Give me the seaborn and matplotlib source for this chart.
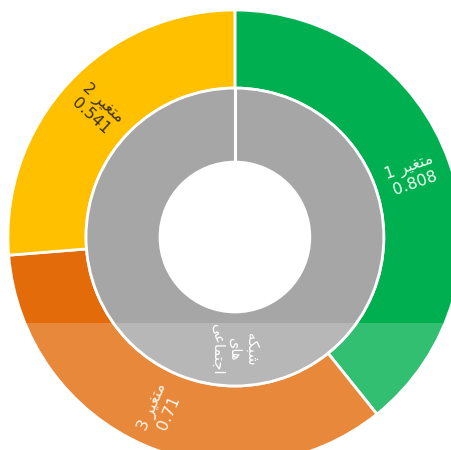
import matplotlib
matplotlib.use('Agg')
import matplotlib.pyplot as plt
from matplotlib.patches import Rectangle
import numpy as np
import seaborn as sns

# outer ring, clockwise from 12 o'clock
names = ['متغیر 1', 'متغیر 3', 'متغیر 2']
values = [0.808, 0.71, 0.541]
colors = ['#00B050', '#E36B0A', '#FFC000']
text_colors = ['#f2fff2', '#fff4ea', '#3a3222']

# inner ring
inner_name = 'شبکه های اجتماعی'
inner_value = [1.0]
inner_color = ['#A6A6A6']

# crude arabic shaping (matplotlib has no complex text layout)
FORMS = {
    'ا': ('\uFE8D', '\uFE8E', None, None),
    'ب': ('\uFE8F', '\uFE90', '\uFE91', '\uFE92'),
    'ت': ('\uFE95', '\uFE96', '\uFE97', '\uFE98'),
    'ج': ('\uFE9D', '\uFE9E', '\uFE9F', '\uFEA0'),
    'ر': ('\uFEAD', '\uFEAE', None, None),
    'ش': ('\uFEB5', '\uFEB6', '\uFEB7', '\uFEB8'),
    'ع': ('\uFEC9', '\uFECA', '\uFECB', '\uFECC'),
    'غ': ('\uFECD', '\uFECE', '\uFECF', '\uFED0'),
    'م': ('\uFEE1', '\uFEE2', '\uFEE3', '\uFEE4'),
    'ه': ('\uFEE9', '\uFEEA', '\uFEEB', '\uFEEC'),
    'ک': ('\uFB8E', '\uFB8F', '\uFB90', '\uFB91'),
    'ی': ('\uFBFC', '\uFBFD', '\uFBFE', '\uFBFF'),
}


def shape_word(w):
    out = []
    for i, ch in enumerate(w):
        if ch not in FORMS:
            out.append(ch)
            continue
        prev = w[i - 1] if i > 0 else None
        nxt = w[i + 1] if i < len(w) - 1 else None
        join_prev = prev in FORMS and FORMS[prev][2] is not None
        join_next = nxt in FORMS and FORMS[ch][2] is not None
        iso, fin, ini, med = FORMS[ch]
        if join_prev and join_next:
            out.append(med)
        elif join_prev:
            out.append(fin)
        elif join_next:
            out.append(ini)
        else:
            out.append(iso)
    return ''.join(out)[::-1]


def rtl(line):
    words = line.split(' ')
    has_ar = any(c in FORMS for c in line)
    words = [shape_word(w) if any(c in FORMS for c in w) else w for w in words]
    if has_ar:
        words = words[::-1]
    return ' '.join(words)


sns.set_theme(style='white')
plt.rcParams['font.family'] = ['DejaVu Sans']

fig = plt.figure(figsize=(4.51, 4.5), dpi=100)
ax = fig.add_axes([0, 0, 1, 1])

outer_w = 0.344
inner_r = 0.656
inner_w = 0.326

wedges, _ = ax.pie(values, colors=colors, startangle=90, counterclock=False,
                   radius=1.0, wedgeprops=dict(width=outer_w, edgecolor='white', linewidth=2))
iwedges, _ = ax.pie(inner_value, colors=inner_color, startangle=90, counterclock=False,
                    radius=inner_r, wedgeprops=dict(width=inner_w, edgecolor='white', linewidth=2))
# the single inner wedge still shows its seam at 12 o'clock
ax.plot([0, 0], [inner_r - inner_w, inner_r], color='white', lw=2.2, zorder=3)


def put_label(w, r, txt, color, size):
    mid = (w.theta1 + w.theta2) / 2.0
    mid = (mid + 180) % 360 - 180
    rot = mid if -90 <= mid <= 90 else mid - 180 if mid > 90 else mid + 180
    x = r * np.cos(np.radians(mid))
    y = r * np.sin(np.radians(mid))
    ax.text(x, y, txt, rotation=rot, rotation_mode='anchor', ha='center', va='center',
            multialignment='center', color=color, fontsize=size, linespacing=1.15)


ring_mid = 1.0 - outer_w / 2
for w, n, v, tc in zip(wedges, names, values, text_colors):
    put_label(w, ring_mid, rtl(n) + '\n' + f'{v:g}', tc, 11.5)

put_label(iwedges[0], inner_r - inner_w / 2,
          '\n'.join(rtl(p) for p in inner_name.split(' ')), 'white', 10.5)

# crop like the reference (pie overflows right and bottom)
ax.set_aspect('auto')
ax.set_xlim(-1.035, 0.952)
ax.set_ylim(-0.938, 1.044)
ax.axis('off')

# faint watermark band at the bottom
ax.add_patch(Rectangle((-1.1, -1.0), 2.2, 0.62, color='white', alpha=0.2, zorder=5, lw=0))

fig.savefig('out.png', dpi=100)
